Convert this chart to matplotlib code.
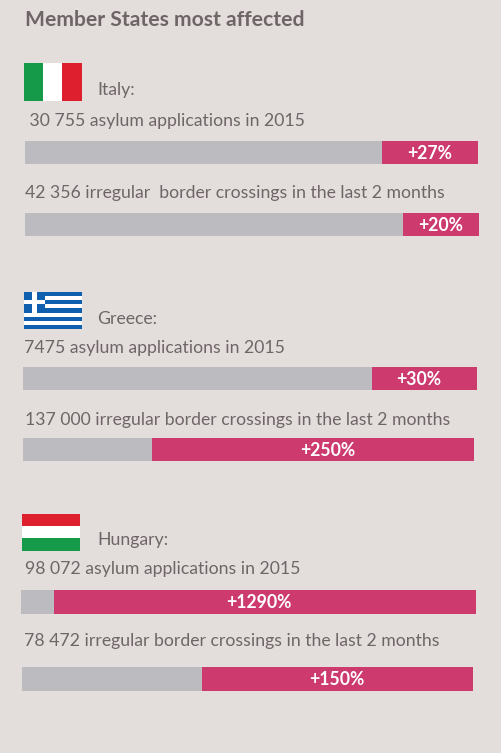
#!/usr/bin/env python3
import matplotlib
matplotlib.use('Agg')
import matplotlib.pyplot as plt
from matplotlib.patches import Rectangle

title = 'Member States most affected'
countries = ['Italy:', 'Greece:', 'Hungary:']
captions = ['\u00a030 755 asylum applications in 2015',
            '42 356 irregular\u00a0 border crossings in the last 2 months',
            '7475 asylum applications in 2015',
            '137 000 irregular border crossings in the last 2 months',
            '98 072 asylum applications in 2015',
            '78 472 irregular border crossings in the last 2 months']
increases = [27, 20, 30, 250, 1290, 150]
base_value = 100

bg = '#e3dedc'
text_color = '#6f6568'
grey = '#bcbcc0'
pink = '#cc3a6e'
text_size = 12.7

# layout in pixels
country_pos = [(97, 95), (97, 324), (97, 545)]
caption_pos = [(25, 126), (25, 198), (24, 353), (25, 425), (25, 574), (24, 646)]
bar_left = [25, 25, 23, 23, 21, 22]
bar_right = [478, 479, 477, 474, 476, 473]
bar_top = [141, 213, 367, 438, 590, 667]
bar_height = [23, 23, 23, 23, 24, 24]
label_x = [430, 441, 419, 328, 259, 337]


def rect(ax, x0, y0, x1, y1, color):
  ax.add_patch(Rectangle((x0, y0), x1 - x0, y1 - y0, facecolor=color, edgecolor='none'))


def draw_flags(ax):
  # Italy
  rect(ax, 24, 63, 43, 101, '#149a48')
  rect(ax, 43, 63, 62, 101, 'white')
  rect(ax, 62, 63, 82, 101, '#de202e')
  # Greece
  stripe = 37 / 9
  for i in range(9):
    rect(ax, 24, 292 + i * stripe, 82, 292 + (i + 1) * stripe, '#0f5fae' if i % 2 == 0 else 'white')
  rect(ax, 24, 292, 45, 292 + 5 * stripe, '#0f5fae')
  rect(ax, 32, 292, 37, 292 + 5 * stripe, 'white')
  rect(ax, 24, 292 + 2 * stripe, 45, 292 + 3 * stripe, 'white')
  # Hungary
  rect(ax, 22, 514, 80, 526, '#de202e')
  rect(ax, 22, 526, 80, 538, 'white')
  rect(ax, 22, 538, 80, 551, '#149a48')


def main():
  plt.rcParams['font.family'] = ['Lato', 'DejaVu Sans']
  fig = plt.figure(figsize=(5.01, 7.53), dpi=100, facecolor=bg)
  ax = fig.add_axes([0, 0, 1, 1])
  ax.set_xlim(0, 501)
  ax.set_ylim(753, 0)
  ax.axis('off')

  ax.text(25, 26, title, fontsize=15.2, fontweight='bold', color=text_color, va='baseline')
  draw_flags(ax)

  for name, (x, y) in zip(countries, country_pos):
    ax.text(x, y, name, fontsize=text_size, color=text_color, va='baseline')
  for cap, (x, y) in zip(captions, caption_pos):
    ax.text(x, y, cap, fontsize=text_size, color=text_color, va='baseline')

  for inc, x0, x1, top, h, lx in zip(increases, bar_left, bar_right, bar_top, bar_height, label_x):
    split = x0 + (x1 - x0) * base_value / (base_value + inc)
    ax.barh(top + h / 2, split - x0, left=x0, height=h, color=grey)
    ax.barh(top + h / 2, x1 - split, left=split, height=h, color=pink)
    ax.text(lx, top + h / 2 + 0.5, '+%d%%' % inc, fontsize=text_size, fontweight='bold',
            color='white', ha='center', va='center')

  ax.set_xlim(0, 501)
  ax.set_ylim(753, 0)
  fig.savefig('out.png', dpi=100, facecolor=bg)


if __name__ == '__main__':
  main()
